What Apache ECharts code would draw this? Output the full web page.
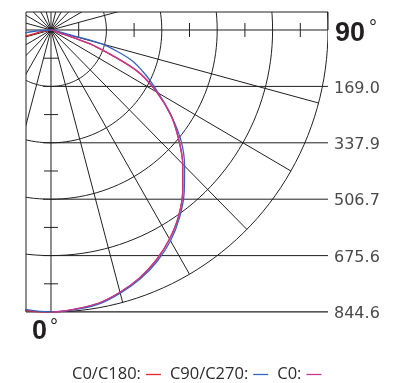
<!DOCTYPE html>
<html>
<head>
<meta charset="utf-8">
<script src="https://cdn.jsdelivr.net/npm/echarts@6/dist/echarts.min.js"></script>
<style>
html, body { margin: 0; padding: 0; background: #fff; }
#chart { width: 404px; height: 383px; }
</style>
</head>
<body>
<div id="chart"></div>
<script>
// gamma angle, 0 = straight down, 90 = horizontal
var angles = [-90, -85, -80, -75, -70, -65, -60, -55, -50, -45, -40, -35, -30, -25, -20, -15, -10, -5,
              0, 5, 10, 15, 20, 25, 30, 35, 40, 45, 50, 55, 60, 65, 70, 75, 80, 85, 90];

// intensity (cd)
var c0c180 = [0, 5, 30, 160, 255, 310, 375, 447, 510, 570, 627, 680, 724, 761, 791, 814, 833, 844,
              846, 839, 831, 813, 790, 760, 723, 679, 625, 568, 508, 447, 373, 288, 145, 12, 4, 1, 0];
var c90c270 = [0, 60, 150, 200, 262, 320, 380, 450, 518, 576, 632, 684, 729, 765, 794, 816, 834, 841,
               844.6, 841, 834, 816, 794, 765, 729, 684, 632, 576, 518, 448, 378, 319, 258, 160, 12, 4, 0];
// C0 only has the 0..90 half
var c0Angles = [0, 5, 10, 15, 20, 25, 30, 35, 40, 45, 50, 55, 60, 65, 70, 75, 80, 85, 90];
var c0 = [846, 839, 831, 813, 790, 760, 723, 679, 625, 568, 508, 447, 373, 288, 145, 12, 4, 1, 0];

var levels = [168.92, 337.84, 506.76, 675.68, 844.6];
var levelLabels = ['169.0', '337.9', '506.7', '675.6', '844.6'];

var X_MIN = -76.2, Y_MIN = -53.9, RMAX = 844.6;
var INK = '#231f20';

function toXY(ang, vals) {
    var out = [];
    for (var i = 0; i < vals.length; i++) {
        var t = ang[i] * Math.PI / 180;
        out.push([vals[i] * Math.sin(t), vals[i] * Math.cos(t)]);
    }
    return out;
}

function seg(a, b) {
    return { type: 'line', shape: { x1: a[0], y1: a[1], x2: b[0], y2: b[1] },
             style: { stroke: INK, lineWidth: 1 } };
}

// circles, rays, level lines and ticks (clipped to the grid)
function renderNet(params, api) {
    var o = api.coord([0, 0]);
    var kids = [];
    levels.forEach(function (r) {
        var pts = [];
        for (var a = 0; a <= 360; a += 2) {
            var t = a * Math.PI / 180;
            pts.push(api.coord([r * Math.sin(t), r * Math.cos(t)]));
        }
        kids.push({ type: 'polyline', shape: { points: pts }, style: { stroke: INK, fill: null, lineWidth: 1 } });
    });
    for (var a = 0; a < 360; a += 15) {
        var t = a * Math.PI / 180;
        kids.push(seg(o, api.coord([RMAX * Math.sin(t), RMAX * Math.cos(t)])));
    }
    var xr = api.coord([RMAX, 0])[0];
    levels.forEach(function (r) {
        var y = api.coord([0, r])[1];
        kids.push(seg([o[0] - 8, y], [xr, y]));
        var h = r - levels[0] / 2;
        var yh = api.coord([0, h])[1];
        kids.push(seg([o[0] - 7, yh], [o[0] + 7, yh]));
        var xh = api.coord([h, 0])[0];
        kids.push(seg([xh, o[1] - 7], [xh, o[1] + 7]));
    });
    return { type: 'group', children: kids };
}

// outer frame, level labels and the angle labels
function renderFrame(params, api) {
    var tl = api.coord([X_MIN, Y_MIN]);
    var br = api.coord([RMAX, RMAX]);
    var o = api.coord([0, 0]);
    var big = 'bold 27px "Liberation Sans"';
    var deg = '20px "Liberation Sans"';
    var kids = [
        seg([tl[0], tl[1]], [br[0], tl[1]]),
        seg([tl[0], tl[1]], [tl[0], br[1]]),
        seg([tl[0], br[1]], [br[0], br[1]]),
        seg([br[0], tl[1]], [br[0], o[1]]),
        { type: 'text', style: { text: '90', x: br[0] + 7, y: o[1] + 4, font: big, fill: INK, align: 'left', verticalAlign: 'middle' } },
        { type: 'text', style: { text: '°', x: br[0] + 41, y: o[1] - 2, font: deg, fill: INK, align: 'left', verticalAlign: 'middle' } },
        { type: 'text', style: { text: '0', x: o[0] - 19, y: br[1] + 20, font: big, fill: INK, align: 'left', verticalAlign: 'middle' } },
        { type: 'text', style: { text: '°', x: o[0] - 1, y: br[1] + 15, font: deg, fill: INK, align: 'left', verticalAlign: 'middle' } }
    ];
    levels.forEach(function (r, i) {
        var y = api.coord([0, r])[1];
        kids.push({ type: 'text', style: { text: levelLabels[i], x: br[0] + 6, y: y + 2,
            font: '16px "DejaVu Sans"', fill: '#4a4a4a', align: 'left', verticalAlign: 'middle' } });
    });
    return { type: 'group', children: kids };
}

var chart = echarts.init(document.getElementById('chart'));

chart.setOption({
    animation: false,
    grid: { left: 26, top: 12, width: 302, height: 300 },
    xAxis: { type: 'value', min: X_MIN, max: RMAX, show: false },
    yAxis: { type: 'value', inverse: true, min: Y_MIN, max: RMAX, show: false },
    legend: {
        left: 67, top: 361, align: 'right', icon: 'rect',
        itemWidth: 15, itemHeight: 1.3, itemGap: 9,
        textStyle: { fontFamily: 'Open Sans', fontSize: 16.5, color: '#2b2b2b' },
        data: ['C0/C180:', 'C90/C270:', 'C0:']
    },
    series: [
        { type: 'custom', renderItem: renderNet, clip: true, silent: true, data: [[0, 0]], z: 1 },
        { type: 'custom', renderItem: renderFrame, clip: false, silent: true, data: [[0, 0]], z: 1 },
        { name: 'C0/C180:', type: 'line', data: toXY(angles, c0c180), showSymbol: false, color: '#e5232e',
          smooth: 0.25, lineStyle: { width: 1.3 }, z: 3 },
        { name: 'C90/C270:', type: 'line', data: toXY(angles, c90c270), showSymbol: false, color: '#3563c2',
          smooth: 0.25, lineStyle: { width: 1.3 }, z: 4 },
        { name: 'C0:', type: 'line', data: toXY(c0Angles, c0), showSymbol: false, color: '#c6378f',
          smooth: 0.25, lineStyle: { width: 1.3 }, z: 5 }
    ]
});
</script>
</body>
</html>
